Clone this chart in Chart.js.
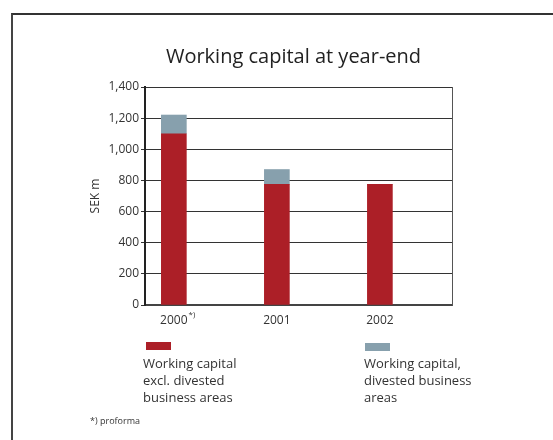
<!DOCTYPE html>
<html>
<head>
<meta charset="utf-8">
<script src="https://cdn.jsdelivr.net/npm/chart.js@4"></script>
<style>
  html, body { margin: 0; padding: 0; background: #fff; }
  #wrap { position: relative; width: 553px; height: 440px; overflow: hidden; font-family: "Open Sans", sans-serif; color: #333; }
  #frame { position: absolute; left: 11px; top: 13px; right: -5px; bottom: -5px; border-top: 2px solid #333; border-left: 2px solid #444; }
  canvas { position: absolute; left: 0; top: 0; }
  .leg { position: absolute; font-size: 13px; line-height: 17px; white-space: pre-line; color: #333; }
  .sw { position: absolute; width: 25px; height: 8px; }
  #note { position: absolute; left: 90px; top: 414px; font-size: 9px; color: #333; }
</style>
</head>
<body>
<div id="wrap">
  <div id="frame"></div>
  <canvas id="wcChart" width="553" height="440"></canvas>
  <div id="legend"></div>
  <div id="note"></div>
</div>
<script>
const chartTitle = "Working capital at year-end";
const years = ["2000", "2001", "2002"];
const yearMarks = ["*)", "", ""];
const exclDivested = [1100, 775, 775];
const divested = [120, 95, 0];
const seriesNames = ["Working capital\nexcl. divested\nbusiness areas", "Working capital,\ndivested business\nareas"];
const seriesColors = ["#ac1f27", "#87a0ad"];
const yTicks = [0, 200, 400, 600, 800, 1000, 1200, 1400];
const yLabel = "SEK m";
const footnote = "*) proforma";

document.addEventListener("DOMContentLoaded", () => {
  const toPoints = vals => vals.map((v, i) => ({ x: i, y: v }));

  // legend + footnote as html text
  const legend = document.getElementById("legend");
  const legendPos = [{ sx: 146, sy: 342, tx: 143, ty: 355 }, { sx: 365, sy: 343, tx: 364, ty: 355 }];
  seriesNames.forEach((name, i) => {
    const sw = document.createElement("div");
    sw.className = "sw";
    sw.style.left = legendPos[i].sx + "px";
    sw.style.top = legendPos[i].sy + "px";
    sw.style.background = seriesColors[i];
    legend.appendChild(sw);
    const t = document.createElement("div");
    t.className = "leg";
    t.style.left = legendPos[i].tx + "px";
    t.style.top = legendPos[i].ty + "px";
    t.textContent = name;
    legend.appendChild(t);
  });
  document.getElementById("note").textContent = footnote;

  // title + superscript marks on x labels
  const extras = {
    id: "extras",
    afterDraw(chart) {
      const { ctx, chartArea, scales } = chart;
      ctx.save();
      ctx.fillStyle = "#222";
      ctx.font = '20px "Open Sans"';
      ctx.textAlign = "center";
      ctx.textBaseline = "middle";
      ctx.fillText(chartTitle, (chartArea.left + chartArea.right) / 2 - 5, chartArea.top - 30);

      yearMarks.forEach((m, i) => {
        if (!m) return;
        ctx.font = '12px "Open Sans"';
        const w = ctx.measureText(years[i]).width;
        const x = scales.x.getPixelForValue(i) + w / 2 + 1;
        ctx.font = '8px "Open Sans"';
        ctx.textAlign = "left";
        ctx.textBaseline = "top";
        ctx.fillStyle = "#333";
        ctx.fillText(m, x, chartArea.bottom + 6);
      });
      ctx.restore();
    },
  };

  new Chart(document.getElementById("wcChart"), {
    type: "bar",
    data: {
      datasets: [
        { label: seriesNames[0], data: toPoints(exclDivested), backgroundColor: seriesColors[0], barThickness: 25 },
        { label: seriesNames[1], data: toPoints(divested), backgroundColor: seriesColors[1], barThickness: 25 },
      ],
    },
    options: {
      responsive: false,
      animation: false,
      layout: { padding: { left: 88, right: 101, top: 87, bottom: 100 } },
      plugins: {
        legend: { display: false },
        tooltip: { enabled: false },
        title: { display: false },
      },
      scales: {
        x: {
          type: "linear",
          stacked: true,
          offset: false,
          min: -0.28,
          max: 2.7,
          afterBuildTicks: s => { s.ticks = years.map((_, i) => ({ value: i })); },
          afterFit: s => { s.height = 35; },
          grid: { display: false, drawTicks: false },
          border: { display: true, color: "#444", width: 2 },
          ticks: {
            padding: 8,
            color: "#333",
            font: { family: "Open Sans", size: 12 },
            callback: v => years[v],
          },
        },
        y: {
          stacked: true,
          min: 0,
          max: 1400,
          afterBuildTicks: s => { s.ticks = yTicks.map(v => ({ value: v })); },
          afterFit: s => { s.width = 57; },
          grid: { color: "#333", lineWidth: 1, tickLength: 4 },
          border: { display: true, color: "#222", width: 2 },
          ticks: {
            padding: 2,
            color: "#333",
            font: { family: "Open Sans", size: 12 },
            callback: v => v.toLocaleString("en-US"),
          },
          title: {
            display: true,
            text: yLabel,
            color: "#333",
            font: { family: "Open Sans", size: 12 },
            padding: { top: 0, bottom: 0 },
          },
        },
        y2: {
          position: "right",
          afterFit: s => { s.width = 0; },
          grid: { display: false },
          ticks: { display: false },
          border: { display: true, color: "#555", width: 1 },
        },
      },
    },
    plugins: [extras],
  });
});
</script>
</body>
</html>
